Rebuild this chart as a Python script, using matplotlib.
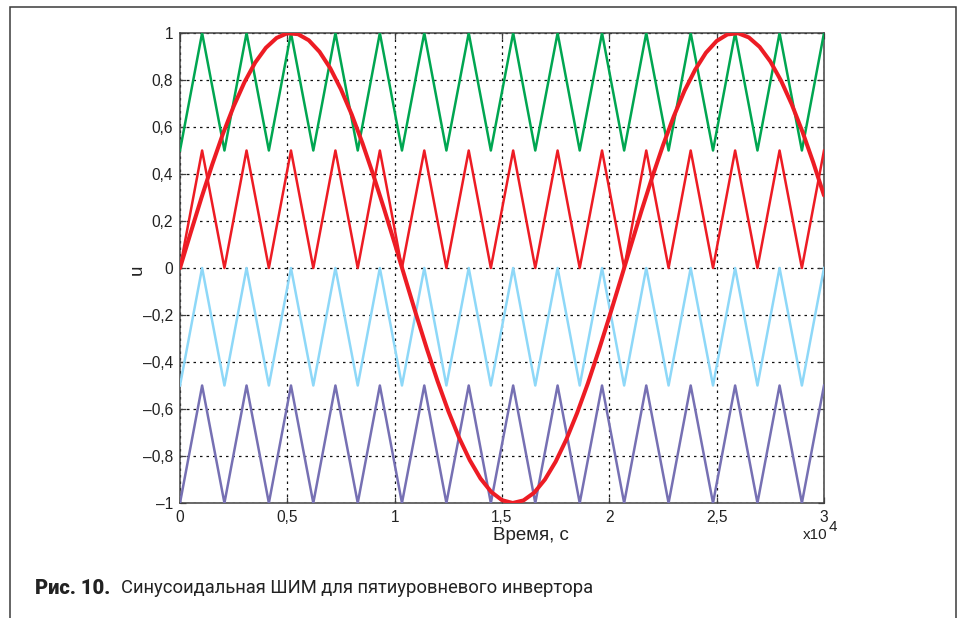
import matplotlib
matplotlib.use("Agg")
import matplotlib.pyplot as plt
import numpy as np
from matplotlib.patches import Rectangle

# ---- data (time in units of 10^4 s) ----
carrier_t = [0.000, 0.103, 0.207, 0.310, 0.414, 0.517, 0.621, 0.724, 0.828, 0.931,
             1.034, 1.138, 1.241, 1.345, 1.448, 1.552, 1.655, 1.759, 1.862, 1.966,
             2.069, 2.172, 2.276, 2.379, 2.483, 2.586, 2.690, 2.793, 2.897, 3.000]
carrier_green = [0.5, 1.0] * 15
carrier_red = [0.0, 0.5] * 15
carrier_blue = [-0.5, 0.0] * 15
carrier_purple = [-1.0, -0.5] * 15

sine_t = np.linspace(0, 3, 61)
sine_u = [0.000, 0.151, 0.299, 0.440, 0.571, 0.688, 0.790, 0.874, 0.937, 0.979,
          0.999, 0.995, 0.969, 0.920, 0.850, 0.760, 0.653, 0.531, 0.397, 0.254,
          0.105, -0.047, -0.198, -0.344, -0.482, -0.609, -0.722, -0.818, -0.896, -0.953,
          -0.988, -1.000, -0.989, -0.956, -0.900, -0.824, -0.729, -0.617, -0.491, -0.353,
          -0.208, -0.058, 0.094, 0.244, 0.387, 0.522, 0.645, 0.754, 0.844, 0.916,
          0.966, 0.994, 0.999, 0.981, 0.941, 0.879, 0.797, 0.696, 0.579, 0.449,
          0.309]

x_ticks = [0, 0.5, 1, 1.5, 2, 2.5, 3]
x_ticklabels = ["0", "0,5", "1", "1,5", "2", "2,5", "3"]
y_ticks = [-1, -0.8, -0.6, -0.4, -0.2, 0, 0.2, 0.4, 0.6, 0.8, 1]
y_ticklabels = ["\u20131", "\u20130,8", "\u20130,6", "\u20130,4", "\u20130,2", "0",
                "0,2", "0,4", "0,6", "0,8", "1"]

xlabel = "Время, с"
ylabel = "u"
caption_bold = "Рис. 10."
caption_text = "Синусоидальная ШИМ для пятиуровневого инвертора"

plt.rcParams['font.family'] = ['Liberation Sans', 'DejaVu Sans']

W, H = 959, 618
fig = plt.figure(figsize=(W / 100, H / 100), dpi=100)
fig.patch.set_facecolor('white')

def fx(px):
    return px / W

def fy(py):
    return 1 - py / H

# outer frame
frame = Rectangle((fx(10), -0.05), fx(956) - fx(10), fy(7) + 0.05,
                  transform=fig.transFigure, fill=False, edgecolor='#3a3a3a',
                  linewidth=1.1, clip_on=False)
fig.patches.append(frame)

ax = fig.add_axes([fx(180), fy(503), fx(824) - fx(180), fy(33) - fy(503)])

ax.plot(carrier_t, carrier_green, color='#00a651', lw=1.8, zorder=3)
ax.plot(carrier_t, carrier_red, color='#ed1c24', lw=1.8, zorder=3)
ax.plot(carrier_t, carrier_blue, color='#8ed8f8', lw=1.8, zorder=3)
ax.plot(carrier_t, carrier_purple, color='#7670b3', lw=1.8, zorder=3)
ax.plot(sine_t, sine_u, color='#ed1c24', lw=2.9, zorder=4,
        solid_joinstyle='round', solid_capstyle='round')

ax.set_xlim(0, 3)
ax.set_ylim(-1, 1)
ax.set_xticks(x_ticks)
ax.set_xticklabels(x_ticklabels)
ax.set_yticks(y_ticks)
ax.set_yticklabels(y_ticklabels)

ax.grid(True, color='#111111', linestyle=(0, (2.0, 3.2)), linewidth=0.9)
ax.set_axisbelow(True)

for s in ax.spines.values():
    s.set_color('#404040')
    s.set_linewidth(1.1)

ax.tick_params(direction='in', length=4.5, width=0.9, color='#404040',
               top=True, right=True, labelsize=11.2, labelcolor='#222222', pad=5)

ax.set_xlabel(xlabel, fontsize=13.5, color='#222222')
ax.xaxis.set_label_coords((531 - 180) / 644, (503 - 536) / 470)
ax.xaxis.label.set_va('center')
ax.set_ylabel(ylabel, fontsize=13.5, color='#222222')
ax.yaxis.set_label_coords((137 - 180) / 644, (503 - 270) / 470)
ax.yaxis.label.set_va('center')

fig.text(fx(803), fy(535), "x10", ha='left', va='center', fontsize=11, color='#222222')
fig.text(fx(829), fy(527), "4", ha='left', va='center', fontsize=11, color='#222222')

fig.text(fx(35), fy(588), caption_bold, ha='left', va='center',
         fontsize=14.5, fontweight='heavy', family=['Roboto', 'DejaVu Sans'],
         color='#222222')
fig.text(fx(121), fy(588), caption_text, ha='left', va='center',
         fontsize=13.2, family=['Roboto', 'DejaVu Sans'], color='#222222')

fig.savefig("out.png", dpi=100)
